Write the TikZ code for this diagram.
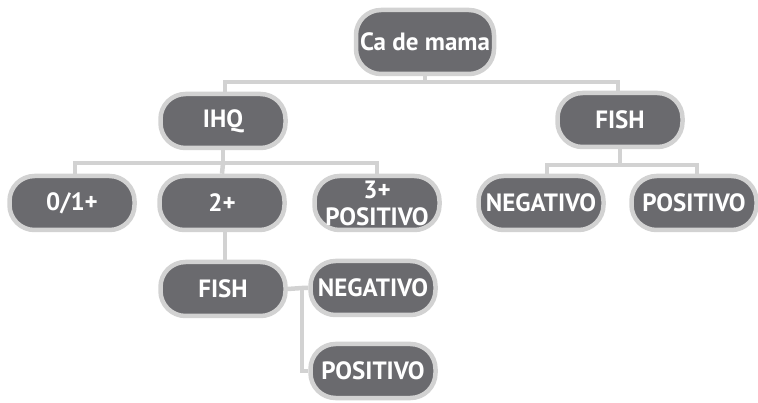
\documentclass[tikz,border=0pt]{standalone}
\usepackage{fontspec}
\setmainfont{PT Sans}
\usetikzlibrary{backgrounds}
\definecolor{boxfill}{HTML}{6A6A6E}
\definecolor{boxline}{HTML}{D2D2D2}
\tikzset{
  box/.style={draw=boxline, line width=4.5pt, fill=boxfill, text=white,
    rounded corners=25pt, minimum width=125pt, minimum height=54pt,
    inner sep=0pt, align=center, font=\fontsize{25}{27}\selectfont\bfseries},
  link/.style={draw=boxline, line width=4.5pt}
}
\begin{document}
\begin{tikzpicture}[x=1pt,y=-1pt]
\useasboundingbox (0,0) rectangle (758,403);
\node[box, minimum width=138pt, minimum height=64pt] (ca) at (425,42) {Ca de mama};
\node[box] (ihq) at (223,121) {IHQ};
\node[box] (fishR) at (620,120) {FISH};
\node[box] (z1) at (72,203) {0/1+};
\node[box] (z2) at (222,203) {2+};
\node[box] (z3) at (377,203) {3+\\POSITIVO};
\node[box] (negR) at (541,203) {NEGATIVO};
\node[box] (posR) at (694,203) {POSITIVO};
\node[box] (fishL) at (223,289) {FISH};
\node[box] (negL) at (373,288) {NEGATIVO};
\node[box] (posL) at (373,371) {POSITIVO};
\coordinate (j1) at (302,288);
\coordinate (j2) at (302,371);
\begin{scope}[on background layer]
\draw[link] (ca.south) -- (425,82);
\draw[link] (ihq.north -| 225,0) |- (425,82) -| (fishR.north -| 618,0);
\draw[link] (ihq.south) -- (223,163);
\draw[link] (z1.north -| 75,0) |- (223,163) -| (z3.north);
\draw[link] (223,163) -- (z2.north);
\draw[link] (fishR.south) -- (620,165);
\draw[link] (negR.north -| 547,0) |- (620,165) -| (posR.north -| 697,0);
\draw[link] (z2.south -| 225,0) -- (fishL.north -| 225,0);
\draw[link] (fishL.east) -- (j1) -- (negL.west);
\draw[link] (j1) -- (j2) -- (posL.west);
\end{scope}
\end{tikzpicture}
\end{document}
